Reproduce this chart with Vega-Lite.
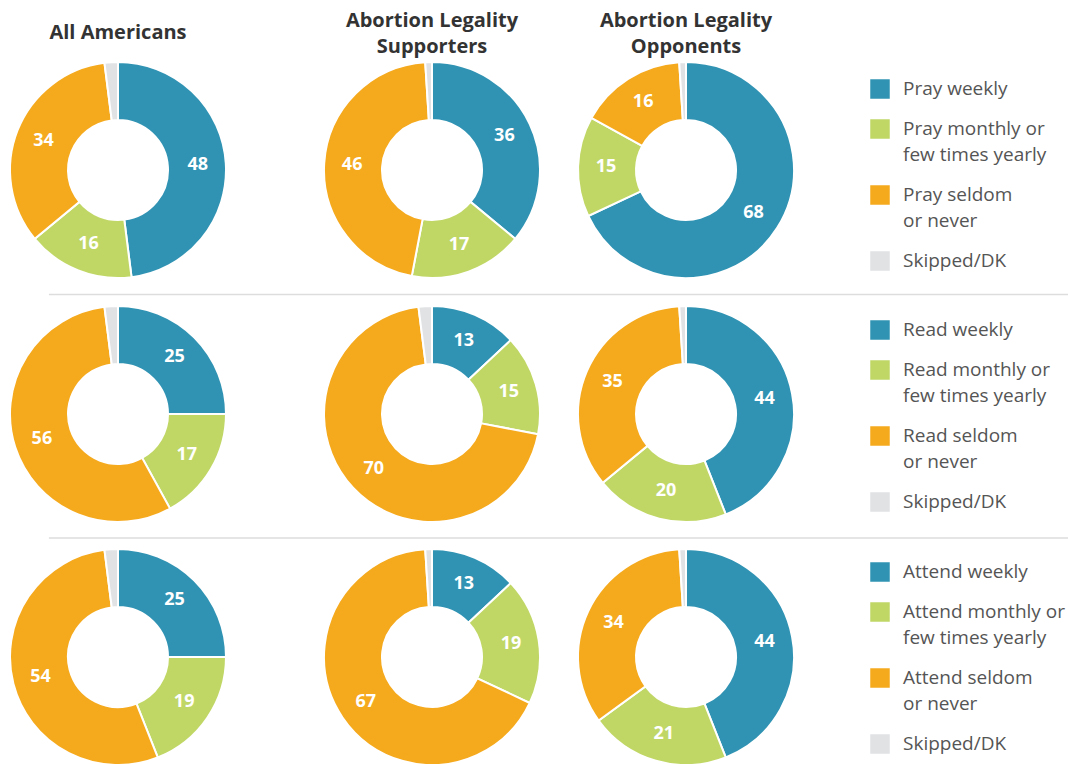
{
  "$schema": "https://vega.github.io/schema/vega-lite/v6.json",
  "width": 1068,
  "height": 764,
  "autosize": "none",
  "padding": 0,
  "config": {"view": {"stroke": null}, "font": "Open Sans", "style": {"guide-label": {"lineHeight": 26}}},
  "datasets": {
    "d": [
      {"r": 1, "c": 1, "k": 1, "cat": "Pray weekly", "v": 48},
      {"r": 1, "c": 1, "k": 2, "cat": "Pray monthly or|few times yearly", "v": 16},
      {"r": 1, "c": 1, "k": 3, "cat": "Pray seldom|or never", "v": 34},
      {"r": 1, "c": 1, "k": 4, "cat": "Skipped/DK", "v": 2},
      {"r": 1, "c": 2, "k": 1, "cat": "Pray weekly", "v": 36},
      {"r": 1, "c": 2, "k": 2, "cat": "Pray monthly or|few times yearly", "v": 17},
      {"r": 1, "c": 2, "k": 3, "cat": "Pray seldom|or never", "v": 46},
      {"r": 1, "c": 2, "k": 4, "cat": "Skipped/DK", "v": 1},
      {"r": 1, "c": 3, "k": 1, "cat": "Pray weekly", "v": 68},
      {"r": 1, "c": 3, "k": 2, "cat": "Pray monthly or|few times yearly", "v": 15},
      {"r": 1, "c": 3, "k": 3, "cat": "Pray seldom|or never", "v": 16},
      {"r": 1, "c": 3, "k": 4, "cat": "Skipped/DK", "v": 1},
      {"r": 2, "c": 1, "k": 1, "cat": "Read weekly", "v": 25},
      {"r": 2, "c": 1, "k": 2, "cat": "Read monthly or|few times yearly", "v": 17},
      {"r": 2, "c": 1, "k": 3, "cat": "Read seldom|or never", "v": 56},
      {"r": 2, "c": 1, "k": 4, "cat": "Skipped/DK", "v": 2},
      {"r": 2, "c": 2, "k": 1, "cat": "Read weekly", "v": 13},
      {"r": 2, "c": 2, "k": 2, "cat": "Read monthly or|few times yearly", "v": 15},
      {"r": 2, "c": 2, "k": 3, "cat": "Read seldom|or never", "v": 70},
      {"r": 2, "c": 2, "k": 4, "cat": "Skipped/DK", "v": 2},
      {"r": 2, "c": 3, "k": 1, "cat": "Read weekly", "v": 44},
      {"r": 2, "c": 3, "k": 2, "cat": "Read monthly or|few times yearly", "v": 20},
      {"r": 2, "c": 3, "k": 3, "cat": "Read seldom|or never", "v": 35},
      {"r": 2, "c": 3, "k": 4, "cat": "Skipped/DK", "v": 1},
      {"r": 3, "c": 1, "k": 1, "cat": "Attend weekly", "v": 25},
      {"r": 3, "c": 1, "k": 2, "cat": "Attend monthly or|few times yearly", "v": 19},
      {"r": 3, "c": 1, "k": 3, "cat": "Attend seldom|or never", "v": 54},
      {"r": 3, "c": 1, "k": 4, "cat": "Skipped/DK", "v": 2},
      {"r": 3, "c": 2, "k": 1, "cat": "Attend weekly", "v": 13},
      {"r": 3, "c": 2, "k": 2, "cat": "Attend monthly or|few times yearly", "v": 19},
      {"r": 3, "c": 2, "k": 3, "cat": "Attend seldom|or never", "v": 67},
      {"r": 3, "c": 2, "k": 4, "cat": "Skipped/DK", "v": 1},
      {"r": 3, "c": 3, "k": 1, "cat": "Attend weekly", "v": 44},
      {"r": 3, "c": 3, "k": 2, "cat": "Attend monthly or|few times yearly", "v": 21},
      {"r": 3, "c": 3, "k": 3, "cat": "Attend seldom|or never", "v": 34},
      {"r": 3, "c": 3, "k": 4, "cat": "Skipped/DK", "v": 1}
    ]
  },
  "layer": [
    {
      "data": {"values": [{"col": 1, "t": "All Americans"}]},
      "mark": {"type": "text", "fontWeight": "bold", "fontSize": 20, "fill": "#333333", "baseline": "middle"},
      "encoding": {
        "x": {"field": "col", "type": "quantitative", "scale": {"domain": [1, 2, 3], "range": [118, 432, 686], "zero": false, "nice": false}, "axis": null},
        "y": {"datum": 0.4385, "scale": {"domain": [1, 2, 3], "range": [170, 414, 657], "zero": false, "nice": false}, "axis": null},
        "text": {"field": "t", "type": "nominal"}
      }
    },
    {
      "data": {"values": [
        {"col": 2, "t": "Abortion Legality|Supporters"},
        {"col": 3, "t": "Abortion Legality|Opponents"}
      ]},
      "mark": {"type": "text", "lineBreak": "|", "fontWeight": "bold", "fontSize": 20, "fill": "#333333", "baseline": "middle", "lineHeight": 26},
      "encoding": {
        "x": {"field": "col", "type": "quantitative"},
        "y": {"datum": 0.389},
        "text": {"field": "t", "type": "nominal"}
      }
    },
    {
      "data": {"values": [{"x1": 0.78, "x2": 4.6, "yy": 1.51}, {"x1": 0.78, "x2": 4.6, "yy": 2.51}]},
      "mark": {"type": "rule", "color": "#dddddd", "strokeWidth": 1.5},
      "encoding": {
        "x": {"field": "x1", "type": "quantitative"},
        "x2": {"field": "x2"},
        "y": {"field": "yy", "type": "quantitative"}
      }
    },
    {"data": {"name": "d"}, "transform": [{"filter": "datum.r == 1 && datum.c == 1"}],
     "mark": {"type": "arc", "innerRadius": 50, "outerRadius": 108, "stroke": "#ffffff", "strokeWidth": 2},
     "encoding": {"x": {"field": "c", "type": "quantitative"}, "y": {"field": "r", "type": "quantitative"}, "theta": {"field": "v", "type": "quantitative", "stack": true}, "order": {"field": "k", "type": "quantitative"},
       "color": {"field": "cat", "type": "nominal", "scale": {"domain": ["Pray weekly", "Pray monthly or|few times yearly", "Pray seldom|or never", "Skipped/DK"], "range": ["#3093b3", "#c0d766", "#f5a91d", "#e1e2e4"]},
         "legend": {"title": null, "orient": "none", "legendX": 870, "legendY": 79, "symbolType": "square", "symbolSize": 380, "symbolStrokeWidth": 0, "labelFont": "Open Sans", "labelFontSize": 19, "labelColor": "#555555", "labelLimit": 300, "labelExpr": "split(datum.label, '|')", "rowPadding": 20, "labelOffset": 13}}}},
    {"data": {"name": "d"}, "transform": [{"filter": "datum.r == 1 && datum.c == 1"}],
     "mark": {"type": "text", "radius": 80, "fill": "#ffffff", "fontWeight": "bold", "fontSize": 18},
     "encoding": {"x": {"field": "c", "type": "quantitative"}, "y": {"field": "r", "type": "quantitative"}, "theta": {"field": "v", "type": "quantitative", "stack": true}, "order": {"field": "k", "type": "quantitative"},
       "text": {"condition": {"test": "datum.k == 4", "value": ""}, "field": "v", "type": "quantitative"}}},
    {"data": {"name": "d"}, "transform": [{"filter": "datum.r == 1 && datum.c == 2"}],
     "mark": {"type": "arc", "innerRadius": 50, "outerRadius": 108, "stroke": "#ffffff", "strokeWidth": 2},
     "encoding": {"x": {"field": "c", "type": "quantitative"}, "y": {"field": "r", "type": "quantitative"}, "theta": {"field": "v", "type": "quantitative", "stack": true}, "order": {"field": "k", "type": "quantitative"},
       "color": {"field": "cat", "type": "nominal", "scale": {"domain": ["Pray weekly", "Pray monthly or|few times yearly", "Pray seldom|or never", "Skipped/DK"], "range": ["#3093b3", "#c0d766", "#f5a91d", "#e1e2e4"]}, "legend": null}}},
    {"data": {"name": "d"}, "transform": [{"filter": "datum.r == 1 && datum.c == 2"}],
     "mark": {"type": "text", "radius": 80, "fill": "#ffffff", "fontWeight": "bold", "fontSize": 18},
     "encoding": {"x": {"field": "c", "type": "quantitative"}, "y": {"field": "r", "type": "quantitative"}, "theta": {"field": "v", "type": "quantitative", "stack": true}, "order": {"field": "k", "type": "quantitative"},
       "text": {"condition": {"test": "datum.k == 4", "value": ""}, "field": "v", "type": "quantitative"}}},
    {"data": {"name": "d"}, "transform": [{"filter": "datum.r == 1 && datum.c == 3"}],
     "mark": {"type": "arc", "innerRadius": 50, "outerRadius": 108, "stroke": "#ffffff", "strokeWidth": 2},
     "encoding": {"x": {"field": "c", "type": "quantitative"}, "y": {"field": "r", "type": "quantitative"}, "theta": {"field": "v", "type": "quantitative", "stack": true}, "order": {"field": "k", "type": "quantitative"},
       "color": {"field": "cat", "type": "nominal", "scale": {"domain": ["Pray weekly", "Pray monthly or|few times yearly", "Pray seldom|or never", "Skipped/DK"], "range": ["#3093b3", "#c0d766", "#f5a91d", "#e1e2e4"]}, "legend": null}}},
    {"data": {"name": "d"}, "transform": [{"filter": "datum.r == 1 && datum.c == 3"}],
     "mark": {"type": "text", "radius": 80, "fill": "#ffffff", "fontWeight": "bold", "fontSize": 18},
     "encoding": {"x": {"field": "c", "type": "quantitative"}, "y": {"field": "r", "type": "quantitative"}, "theta": {"field": "v", "type": "quantitative", "stack": true}, "order": {"field": "k", "type": "quantitative"},
       "text": {"condition": {"test": "datum.k == 4", "value": ""}, "field": "v", "type": "quantitative"}}},

    {"data": {"name": "d"}, "transform": [{"filter": "datum.r == 2 && datum.c == 1"}],
     "mark": {"type": "arc", "innerRadius": 50, "outerRadius": 108, "stroke": "#ffffff", "strokeWidth": 2},
     "encoding": {"x": {"field": "c", "type": "quantitative"}, "y": {"field": "r", "type": "quantitative"}, "theta": {"field": "v", "type": "quantitative", "stack": true}, "order": {"field": "k", "type": "quantitative"},
       "color": {"field": "cat", "type": "nominal", "scale": {"domain": ["Read weekly", "Read monthly or|few times yearly", "Read seldom|or never", "Skipped/DK"], "range": ["#3093b3", "#c0d766", "#f5a91d", "#e1e2e4"]},
         "legend": {"title": null, "orient": "none", "legendX": 870, "legendY": 320, "symbolType": "square", "symbolSize": 380, "symbolStrokeWidth": 0, "labelFont": "Open Sans", "labelFontSize": 19, "labelColor": "#555555", "labelLimit": 300, "labelExpr": "split(datum.label, '|')", "rowPadding": 20, "labelOffset": 13}}}},
    {"data": {"name": "d"}, "transform": [{"filter": "datum.r == 2 && datum.c == 1"}],
     "mark": {"type": "text", "radius": 80, "fill": "#ffffff", "fontWeight": "bold", "fontSize": 18},
     "encoding": {"x": {"field": "c", "type": "quantitative"}, "y": {"field": "r", "type": "quantitative"}, "theta": {"field": "v", "type": "quantitative", "stack": true}, "order": {"field": "k", "type": "quantitative"},
       "text": {"condition": {"test": "datum.k == 4", "value": ""}, "field": "v", "type": "quantitative"}}},
    {"data": {"name": "d"}, "transform": [{"filter": "datum.r == 2 && datum.c == 2"}],
     "mark": {"type": "arc", "innerRadius": 50, "outerRadius": 108, "stroke": "#ffffff", "strokeWidth": 2},
     "encoding": {"x": {"field": "c", "type": "quantitative"}, "y": {"field": "r", "type": "quantitative"}, "theta": {"field": "v", "type": "quantitative", "stack": true}, "order": {"field": "k", "type": "quantitative"},
       "color": {"field": "cat", "type": "nominal", "scale": {"domain": ["Read weekly", "Read monthly or|few times yearly", "Read seldom|or never", "Skipped/DK"], "range": ["#3093b3", "#c0d766", "#f5a91d", "#e1e2e4"]}, "legend": null}}},
    {"data": {"name": "d"}, "transform": [{"filter": "datum.r == 2 && datum.c == 2"}],
     "mark": {"type": "text", "radius": 80, "fill": "#ffffff", "fontWeight": "bold", "fontSize": 18},
     "encoding": {"x": {"field": "c", "type": "quantitative"}, "y": {"field": "r", "type": "quantitative"}, "theta": {"field": "v", "type": "quantitative", "stack": true}, "order": {"field": "k", "type": "quantitative"},
       "text": {"condition": {"test": "datum.k == 4", "value": ""}, "field": "v", "type": "quantitative"}}},
    {"data": {"name": "d"}, "transform": [{"filter": "datum.r == 2 && datum.c == 3"}],
     "mark": {"type": "arc", "innerRadius": 50, "outerRadius": 108, "stroke": "#ffffff", "strokeWidth": 2},
     "encoding": {"x": {"field": "c", "type": "quantitative"}, "y": {"field": "r", "type": "quantitative"}, "theta": {"field": "v", "type": "quantitative", "stack": true}, "order": {"field": "k", "type": "quantitative"},
       "color": {"field": "cat", "type": "nominal", "scale": {"domain": ["Read weekly", "Read monthly or|few times yearly", "Read seldom|or never", "Skipped/DK"], "range": ["#3093b3", "#c0d766", "#f5a91d", "#e1e2e4"]}, "legend": null}}},
    {"data": {"name": "d"}, "transform": [{"filter": "datum.r == 2 && datum.c == 3"}],
     "mark": {"type": "text", "radius": 80, "fill": "#ffffff", "fontWeight": "bold", "fontSize": 18},
     "encoding": {"x": {"field": "c", "type": "quantitative"}, "y": {"field": "r", "type": "quantitative"}, "theta": {"field": "v", "type": "quantitative", "stack": true}, "order": {"field": "k", "type": "quantitative"},
       "text": {"condition": {"test": "datum.k == 4", "value": ""}, "field": "v", "type": "quantitative"}}},

    {"data": {"name": "d"}, "transform": [{"filter": "datum.r == 3 && datum.c == 1"}],
     "mark": {"type": "arc", "innerRadius": 50, "outerRadius": 108, "stroke": "#ffffff", "strokeWidth": 2},
     "encoding": {"x": {"field": "c", "type": "quantitative"}, "y": {"field": "r", "type": "quantitative"}, "theta": {"field": "v", "type": "quantitative", "stack": true}, "order": {"field": "k", "type": "quantitative"},
       "color": {"field": "cat", "type": "nominal", "scale": {"domain": ["Attend weekly", "Attend monthly or|few times yearly", "Attend seldom|or never", "Skipped/DK"], "range": ["#3093b3", "#c0d766", "#f5a91d", "#e1e2e4"]},
         "legend": {"title": null, "orient": "none", "legendX": 870, "legendY": 562, "symbolType": "square", "symbolSize": 380, "symbolStrokeWidth": 0, "labelFont": "Open Sans", "labelFontSize": 19, "labelColor": "#555555", "labelLimit": 300, "labelExpr": "split(datum.label, '|')", "rowPadding": 20, "labelOffset": 13}}}},
    {"data": {"name": "d"}, "transform": [{"filter": "datum.r == 3 && datum.c == 1"}],
     "mark": {"type": "text", "radius": 80, "fill": "#ffffff", "fontWeight": "bold", "fontSize": 18},
     "encoding": {"x": {"field": "c", "type": "quantitative"}, "y": {"field": "r", "type": "quantitative"}, "theta": {"field": "v", "type": "quantitative", "stack": true}, "order": {"field": "k", "type": "quantitative"},
       "text": {"condition": {"test": "datum.k == 4", "value": ""}, "field": "v", "type": "quantitative"}}},
    {"data": {"name": "d"}, "transform": [{"filter": "datum.r == 3 && datum.c == 2"}],
     "mark": {"type": "arc", "innerRadius": 50, "outerRadius": 108, "stroke": "#ffffff", "strokeWidth": 2},
     "encoding": {"x": {"field": "c", "type": "quantitative"}, "y": {"field": "r", "type": "quantitative"}, "theta": {"field": "v", "type": "quantitative", "stack": true}, "order": {"field": "k", "type": "quantitative"},
       "color": {"field": "cat", "type": "nominal", "scale": {"domain": ["Attend weekly", "Attend monthly or|few times yearly", "Attend seldom|or never", "Skipped/DK"], "range": ["#3093b3", "#c0d766", "#f5a91d", "#e1e2e4"]}, "legend": null}}},
    {"data": {"name": "d"}, "transform": [{"filter": "datum.r == 3 && datum.c == 2"}],
     "mark": {"type": "text", "radius": 80, "fill": "#ffffff", "fontWeight": "bold", "fontSize": 18},
     "encoding": {"x": {"field": "c", "type": "quantitative"}, "y": {"field": "r", "type": "quantitative"}, "theta": {"field": "v", "type": "quantitative", "stack": true}, "order": {"field": "k", "type": "quantitative"},
       "text": {"condition": {"test": "datum.k == 4", "value": ""}, "field": "v", "type": "quantitative"}}},
    {"data": {"name": "d"}, "transform": [{"filter": "datum.r == 3 && datum.c == 3"}],
     "mark": {"type": "arc", "innerRadius": 50, "outerRadius": 108, "stroke": "#ffffff", "strokeWidth": 2},
     "encoding": {"x": {"field": "c", "type": "quantitative"}, "y": {"field": "r", "type": "quantitative"}, "theta": {"field": "v", "type": "quantitative", "stack": true}, "order": {"field": "k", "type": "quantitative"},
       "color": {"field": "cat", "type": "nominal", "scale": {"domain": ["Attend weekly", "Attend monthly or|few times yearly", "Attend seldom|or never", "Skipped/DK"], "range": ["#3093b3", "#c0d766", "#f5a91d", "#e1e2e4"]}, "legend": null}}},
    {"data": {"name": "d"}, "transform": [{"filter": "datum.r == 3 && datum.c == 3"}],
     "mark": {"type": "text", "radius": 80, "fill": "#ffffff", "fontWeight": "bold", "fontSize": 18},
     "encoding": {"x": {"field": "c", "type": "quantitative"}, "y": {"field": "r", "type": "quantitative"}, "theta": {"field": "v", "type": "quantitative", "stack": true}, "order": {"field": "k", "type": "quantitative"},
       "text": {"condition": {"test": "datum.k == 4", "value": ""}, "field": "v", "type": "quantitative"}}}
  ],
  "resolve": {"scale": {"color": "independent"}}
}
